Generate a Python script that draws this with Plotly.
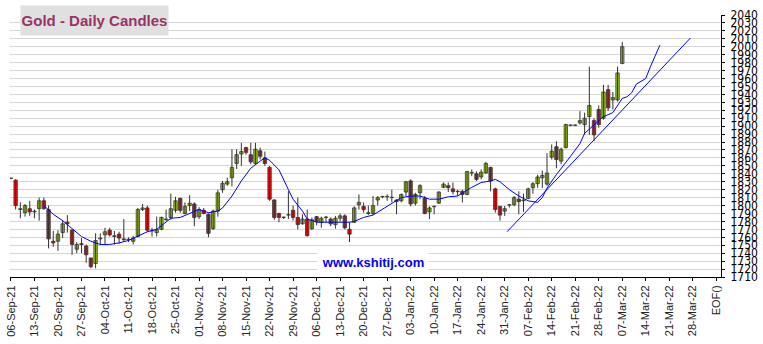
import plotly.graph_objects as go

# ---- x-axis week labels (trading-day index 0,5,10,...) ----
week_labels = ["06-Sep-21", "13-Sep-21", "20-Sep-21", "27-Sep-21", "04-Oct-21", "11-Oct-21",
               "18-Oct-21", "25-Oct-21", "01-Nov-21", "08-Nov-21", "15-Nov-21", "22-Nov-21",
               "29-Nov-21", "06-Dec-21", "13-Dec-21", "20-Dec-21", "27-Dec-21", "03-Jan-22",
               "10-Jan-22", "17-Jan-22", "24-Jan-22", "31-Jan-22", "07-Feb-22", "14-Feb-22",
               "21-Feb-22", "28-Feb-22", "07-Mar-22", "14-Mar-22", "21-Mar-22", "28-Mar-22", "EOF()"]
week_pos = [i * 5 for i in range(len(week_labels))]

y_ticks = list(range(1710, 2041, 10))

# ---- daily candles (O, H, L, C), one per trading day from 06-Sep-21 ----
opens = [1834.5, 1832, 1795, 1791, 1796, 1792, 1796, 1806, 1795, 1755,
         1755, 1766, 1779, 1769, 1745, 1752, 1749, 1734, 1727, 1758,
         1763, 1769, 1761, 1764, 1757, 1757, 1755, 1761, 1795, 1797,
         1768, 1766, 1770, 1782, 1785, 1794, 1809, 1790, 1800, 1802,
         1786, 1794, 1789, 1771, 1793, 1820, 1827, 1835, 1853, 1865,
         1873, 1864, 1853, 1869, 1860, 1848, 1807, 1790, 1785, 1788,
         1794, 1785, 1777, 1783, 1771, 1786, 1779, 1785, 1783, 1776,
         1784, 1787, 1770, 1779, 1801, 1799, 1790, 1790, 1807, 1811,
         1811, 1810, 1807, 1806, 1817, 1831, 1803, 1816, 1809, 1792,
         1798.5, 1803, 1823, 1825, 1821, 1817.5, 1818, 1814, 1841, 1840,
         1836, 1841, 1848, 1821, 1799, 1793, 1800.5, 1801, 1808, 1806,
         1809, 1822.5, 1827.5, 1835, 1827, 1861, 1874, 1856, 1873, 1901,
         1901, 1904, 1902, 1912, 1907, 1921, 1910, 1946, 1933, 1933,
         1979]
highs = [1835.5, 1833, 1804, 1802, 1806, 1795, 1810, 1810, 1800, 1768,
         1769, 1781, 1788, 1770, 1754, 1759, 1751, 1734, 1765, 1765,
         1772, 1772, 1768, 1767, 1783, 1760, 1762, 1797, 1802, 1800,
         1772, 1786, 1786, 1795, 1815, 1811, 1810, 1804, 1813, 1804,
         1798, 1797, 1790, 1795, 1820, 1831, 1835, 1871, 1871, 1879,
         1874, 1879, 1879, 1873, 1868, 1850, 1808, 1791, 1786, 1818,
         1800, 1810, 1789, 1795, 1785, 1787, 1786, 1787, 1785, 1787,
         1790, 1789, 1779, 1799, 1814, 1804, 1800, 1812, 1812, 1812,
         1814, 1820, 1808, 1815, 1831, 1833, 1816, 1827, 1812, 1799,
         1800, 1818, 1829, 1829, 1829, 1820, 1820, 1843, 1845.5, 1843,
         1845.5, 1855, 1849, 1822.5, 1799.5, 1799.5, 1801.5, 1812, 1818, 1815,
         1822.5, 1829.5, 1839, 1844, 1866, 1877, 1881, 1873, 1903, 1902,
         1902, 1919, 1917, 1975, 1910, 1926, 1952, 1952, 1943, 1975,
         2006]
lows = [1833.5, 1795, 1784, 1786, 1787, 1784, 1781, 1795, 1746, 1748,
        1743, 1759, 1766, 1738, 1740, 1740, 1728, 1721, 1721, 1750,
        1751, 1761, 1751, 1752, 1755, 1754, 1751, 1760, 1793, 1767,
        1761, 1761, 1769, 1781, 1782, 1791, 1791, 1789, 1793, 1774,
        1783, 1789, 1760, 1769, 1786, 1816, 1825, 1824, 1846, 1850,
        1864, 1852, 1852, 1858, 1850, 1806, 1782, 1779, 1783, 1783,
        1781, 1770, 1776, 1761, 1769, 1775, 1772, 1779, 1774, 1771,
        1780, 1770, 1754, 1778, 1795, 1791, 1788, 1788, 1800, 1809,
        1806, 1804, 1789, 1804, 1812, 1799, 1800, 1808, 1789, 1783,
        1789, 1802, 1822, 1817, 1814, 1812, 1804, 1813, 1837, 1831,
        1833, 1840, 1818, 1791, 1781, 1787, 1797.5, 1799, 1789, 1792,
        1808, 1815, 1822.5, 1822, 1825, 1858, 1847, 1852, 1872, 1900,
        1900, 1902, 1889, 1889, 1881, 1898, 1908, 1919, 1921, 1931,
        1978]
closes = [1834, 1800, 1796, 1800, 1792, 1793, 1806, 1796, 1758, 1753,
          1764, 1777, 1777, 1751, 1751, 1751, 1738, 1723, 1756, 1759,
          1767, 1763, 1762, 1759, 1758, 1757.5, 1759, 1795, 1797, 1769,
          1769, 1770, 1785, 1783, 1796, 1806, 1794, 1799, 1803, 1785,
          1795, 1790, 1765, 1793, 1816, 1828, 1830, 1848, 1864, 1868,
          1867, 1855, 1871, 1862, 1853, 1808, 1785, 1785, 1785.5, 1788.5,
          1785, 1776, 1783, 1762, 1782, 1780, 1784, 1785.5, 1777, 1784,
          1787, 1772, 1764, 1797, 1804, 1795, 1791, 1800, 1810, 1811.5,
          1811.5, 1810.5, 1805, 1814, 1830, 1802, 1814, 1825, 1790, 1797,
          1799, 1817, 1827, 1822.5, 1817.5, 1818, 1814, 1843, 1841.5, 1833,
          1842, 1853, 1831, 1795, 1788, 1796, 1801, 1810, 1805, 1807,
          1821, 1827.5, 1836, 1838, 1841, 1868.5, 1858, 1871, 1902, 1901.5,
          1901.5, 1907, 1910, 1926, 1889, 1902, 1943, 1923, 1936, 1967,
          2000]

# ---- displaced moving average (blue), read at trading-day indices ----
ma_idx = [7, 9, 11, 13, 15, 17, 19, 21, 23, 25, 27, 29, 31, 34, 36, 38, 40, 42, 44, 45,
          47, 49, 51, 53, 54, 55, 57, 59, 60, 62, 63, 65, 68, 70, 72, 73, 75, 77, 79, 81,
          83, 85, 87, 89, 91, 93, 95, 98, 100, 102, 103, 104, 106, 108, 110, 112, 113, 114,
          116, 119, 121, 122, 124, 126, 128, 129, 130, 131, 132, 133, 135, 136, 138]
ma_val = [1800, 1789, 1781, 1771, 1761, 1755, 1751, 1751, 1753, 1756, 1762, 1767, 1770, 1784,
          1785, 1790, 1795, 1791, 1793, 1797, 1812, 1831, 1847, 1856, 1860, 1857, 1845, 1820,
          1808, 1793, 1783, 1779, 1779, 1779, 1779, 1780, 1785, 1788, 1795, 1803, 1810, 1812,
          1812, 1808, 1808, 1811, 1812, 1823, 1829, 1831, 1833, 1830, 1820, 1812, 1806, 1804,
          1810, 1822, 1839, 1862, 1878, 1891, 1902, 1912, 1917, 1926, 1935, 1937, 1942, 1953,
          1960, 1975, 2002]

# ---- straight trend line ----
trend_x = [105.5, 144.5]
trend_y = [1767, 2011]

GREEN = "#99cc00"
RED = "#ff0000"
n = len(opens)
xs = list(range(n))

wx, wy = [], []
for i in range(n):
    wx += [xs[i], xs[i], None]
    wy += [lows[i], highs[i], None]

base = [min(o, c) for o, c in zip(opens, closes)]
height = [abs(c - o) for o, c in zip(opens, closes)]
colors = [GREEN if c >= o else RED for o, c in zip(opens, closes)]

fig = go.Figure()
fig.add_trace(go.Scatter(x=wx, y=wy, mode="lines", line=dict(color="#333333", width=1),
                         hoverinfo="skip"))
fig.add_trace(go.Bar(x=xs, y=height, base=base, width=0.72,
                     marker=dict(color=colors, line=dict(color="#333333", width=0.8))))
fig.add_trace(go.Scatter(x=ma_idx, y=ma_val, mode="lines", line=dict(color="#0000ff", width=1)))
fig.add_trace(go.Scatter(x=trend_x, y=trend_y, mode="lines", line=dict(color="#0000ff", width=1)))

L, R, T, B = 5, 39, 15, 67
W, H = 763, 344
pw, ph = W - L - R, H - T - B

fig.update_layout(
    width=W, height=H,
    margin=dict(l=L, r=R, t=T, b=B, pad=0),
    plot_bgcolor="white", paper_bgcolor="white",
    showlegend=False, barmode="overlay",
    xaxis=dict(range=[-0.2, 151.0], tickmode="array", tickvals=week_pos, ticktext=week_labels,
               tickangle=-90, showgrid=False, zeroline=False, showline=True,
               linecolor="#000000", linewidth=1, ticks="outside", ticklen=3,
               tickcolor="#000000", ticklabeloverflow="allow",
               tickfont=dict(family="Liberation Sans, Arial, sans-serif", size=11, color="#222222")),
    yaxis=dict(range=[1710, 2040], side="right", tickmode="array", tickvals=y_ticks,
               ticktext=[str(v) for v in y_ticks],
               showgrid=True, gridcolor="#d6d6d6", gridwidth=1, zeroline=False,
               showline=True, linecolor="#000000", linewidth=1, ticks="outside", ticklen=3,
               tickcolor="#000000", ticklabelstandoff=3, ticklabeloverflow="allow",
               tickfont=dict(family="Liberation Sans Narrow, DejaVu Sans Condensed, Arial Narrow, sans-serif",
                             size=12, color="#000000")),
    annotations=[
        dict(text="<b>Gold - Daily Candles</b>", xref="paper", yref="paper",
             x=(15 - L) / pw, y=(H - B - 5) / ph, xanchor="left", yanchor="top",
             showarrow=False, bgcolor="#e0e0e0", width=147, height=29, borderpad=0,
             font=dict(family="Liberation Sans, Arial, sans-serif", size=15, color="#993366")),
        dict(text="<b>www.kshitij.com</b>", xref="paper", yref="paper",
             x=(372 - L) / pw, y=(H - B - 262) / ph, xanchor="center", yanchor="middle",
             showarrow=False, bgcolor="#ffffff", width=110, height=20, borderpad=0,
             font=dict(family="Liberation Sans, Arial, sans-serif", size=13, color="#0000ff")),
    ],
)

fig.write_html("out.html", config={"displayModeBar": False})
